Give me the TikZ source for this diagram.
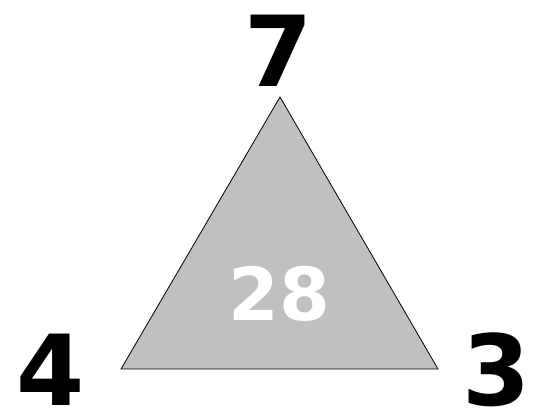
\documentclass[tikz,border=0pt]{standalone}
\usepackage{fontspec}
\setmainfont{DejaVu Sans}
\usepackage{tikz}
\usetikzlibrary{positioning,calc}
\definecolor{trigray}{RGB}{192,192,192}

\begin{document}
\begin{tikzpicture}[x=1pt,y=1pt,
  corner/.style={inner sep=0pt, font=\bfseries\fontsize{98}{98}\selectfont},
  product/.style={inner sep=0pt, text=white, font=\bfseries\fontsize{73}{73}\selectfont}]
  \useasboundingbox (0,0) rectangle (533,417);
  \coordinate (top) at (280,320);
  \coordinate (left) at (121,48);
  \coordinate (right) at (438,48);
  \draw[fill=trigray, line width=0.8pt, line join=miter] (top) -- (left) -- (right) -- cycle;
  \node[corner] (ntop) at (279,366) {7};
  \node[corner] (nleft) at (50.5,47) {4};
  \node[corner] (nright) at (496.5,47) {3};
  \node[product] (prod) at (279,123) {28};
\end{tikzpicture}
\end{document}
